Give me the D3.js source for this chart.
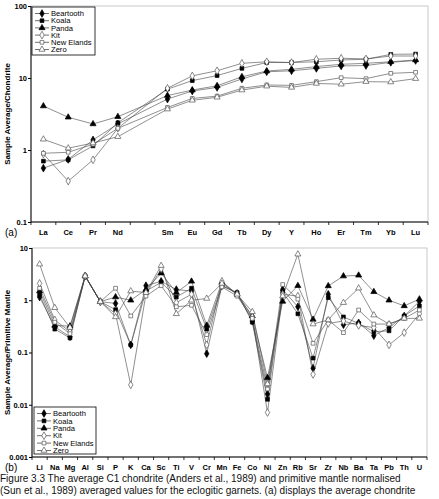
<!DOCTYPE html>
<html>
<head>
<meta charset="utf-8">
<script src="https://cdn.jsdelivr.net/npm/d3@7"></script>
<style>
  body { margin: 0; background: #fff; }
  svg { display: block; font-family: Arial, "Liberation Sans", sans-serif; }
</style>
</head>
<body>
<svg id="chart" width="439" height="499"></svg>
<script>
// series names and markers
const seriesNames = ["Beartooth", "Koala", "Panda", "Kit", "New Elands", "Zero"];

// (a) chondrite normalised REE, Pm is an empty slot
const reeLabels = ["La", "Ce", "Pr", "Nd", "Pm", "Sm", "Eu", "Gd", "Tb", "Dy", "Y", "Ho", "Er", "Tm", "Yb", "Lu"];
const reeBeartooth = [0.56, 0.74, 1.38, 2.3, null, 5.1, 6.6, 7.4, 9.7, 12.2, 12.6, 13.6, 14.7, 14.9, 16.5, 17.5];
const reeKoala = [0.70, 0.73, 1.14, 2.39, null, 7.0, 9.2, 10.8, 13.6, 16.4, 16.4, 16.8, 17.8, 18.2, 21.3, 21.5];
const reePanda = [4.08, 2.85, 2.3, 2.9, null, 5.7, 6.8, 7.8, 10.4, 12.5, 13.2, 14.4, 15.5, 16.0, 16.8, 17.8];
const reeKit = [0.88, 0.37, 0.73, 2.0, null, 7.2, 10.7, 12.6, 16.0, 16.8, 16.4, 18.2, 18.8, 18.4, 20.2, 20.2];
const reeNewElands = [0.90, 0.93, 1.2, 2.0, null, 3.9, 5.2, 5.6, 7.2, 8.0, 7.9, 8.9, 10.1, 9.8, 11.6, 12.0];
const reeZero = [1.41, 1.06, 1.25, 1.53, null, 3.7, 4.9, 5.4, 6.8, 7.7, 7.4, 8.4, 8.2, 8.9, 8.8, 9.8];
const reeTicks = [0.1, 1, 10, 100];

// (b) primitive mantle normalised
const pmLabels = ["Li", "Na", "Mg", "Al", "Si", "P", "K", "Ca", "Sc", "Ti", "V", "Cr", "Mn", "Fe", "Co", "Ni", "Zn", "Rb", "Sr", "Zr", "Nb", "Ba", "Ta", "Pb", "Th", "U"];
const pmBeartooth = [1.15, 0.31, 0.20, 2.9, 0.94, 0.87, 0.14, 1.9, 2.3, 1.6, 1.5, 0.095, 1.9, 1.35, 0.40, 0.016, 1.6, 0.75, 0.05, 1.3, 0.34, 0.37, 0.21, 0.30, 0.50, 0.95];
const pmKoala = [1.3, 0.28, 0.19, 2.9, 0.94, 0.66, 0.14, 1.5, 2.2, 1.15, 1.7, 0.28, 1.9, 1.4, 0.38, 0.0127, 1.45, 0.55, 0.078, 1.12, 0.48, 0.36, 0.25, 0.26, 0.50, 0.78];
const pmPanda = [1.5, 0.33, 0.32, 2.9, 0.94, 1.15, 1.0, 1.6, 3.3, 1.4, 2.3, 0.33, 2.2, 1.3, 0.50, 0.033, 0.95, 1.9, 0.43, 1.88, 2.9, 3.0, 1.45, 1.0, 0.78, 1.05];
const pmKit = [2.1, 0.42, 0.25, 2.9, 0.94, 0.55, 0.024, 1.3, 4.0, 0.9, 1.3, 0.14, 2.3, 1.3, 0.48, 0.0071, 1.3, 1.2, 0.038, 0.36, 0.40, 0.33, 0.30, 0.14, 0.24, 0.55];
const pmNewElands = [1.7, 0.38, 0.23, 2.9, 0.94, 1.7, 0.50, 1.2, 1.9, 0.75, 0.8, 0.22, 1.8, 1.2, 0.45, 0.020, 2.0, 1.05, 0.15, 0.42, 0.24, 0.65, 0.35, 0.35, 0.45, 0.65];
const pmZero = [4.9, 0.72, 0.30, 2.9, 0.94, 0.48, 1.5, 1.4, 4.6, 0.55, 1.0, 1.08, 2.1, 1.3, 0.60, 0.025, 1.2, 7.6, 0.35, 0.42, 0.9, 1.7, 0.52, 0.35, 0.45, 0.45];
const pmTicks = [0.001, 0.01, 0.1, 1, 10];

const caption = [
    "Figure 3.3 The average C1 chondrite (Anders et al., 1989) and primitive mantle normalised",
    "(Sun et al., 1989) averaged values for the eclogitic garnets. (a) displays the average chondrite"
];

const markers = [
    { type: d3.symbolDiamond, size: 17, fill: "#000" },
    { type: d3.symbolSquare, size: 14, fill: "#000" },
    { type: d3.symbolTriangle, size: 16, fill: "#000" },
    { type: d3.symbolDiamond, size: 17, fill: "#fff" },
    { type: d3.symbolSquare, size: 14, fill: "#fff" },
    { type: d3.symbolTriangle, size: 16, fill: "#fff" }
];

const svg = d3.select("#chart");

function drawPanel(opts) {
    const { left, right, top, bottom, labels, series, domain, ticks, yTitle, tag, legendBox, hideLabel } = opts;
    const g = svg.append("g");

    const x = d3.scaleBand().domain(labels).range([left, right]);
    const y = d3.scaleLog().domain(domain).range([bottom, top]);

    // frame
    g.append("rect")
        .attr("x", left).attr("y", top)
        .attr("width", right - left).attr("height", bottom - top)
        .attr("fill", "none").attr("stroke", "#bbb").attr("stroke-width", 0.8);
    g.append("line").attr("x1", left).attr("x2", left).attr("y1", top).attr("y2", bottom)
        .attr("stroke", "#000").attr("stroke-width", 1);
    g.append("line").attr("x1", left).attr("x2", right).attr("y1", bottom).attr("y2", bottom)
        .attr("stroke", "#000").attr("stroke-width", 1);

    // y axis
    const yAxis = d3.axisLeft(y).tickValues(ticks).tickSize(3).tickFormat(d => String(d));
    const ya = g.append("g").attr("transform", `translate(${left},0)`).call(yAxis);
    ya.select(".domain").remove();
    ya.selectAll("text").attr("font-size", 7.5).attr("font-weight", "bold").attr("x", -4)
        .attr("font-family", "Arial, 'Liberation Sans', sans-serif");

    // x axis: labels at band centres, ticks on band edges
    const xAxis = d3.axisBottom(x).tickSize(0).tickFormat(d => d === hideLabel ? "" : d);
    const xa = g.append("g").attr("transform", `translate(0,${bottom})`).call(xAxis);
    xa.select(".domain").remove();
    xa.selectAll("text").attr("font-size", 7.5).attr("font-weight", "bold").attr("dy", "1.15em")
        .attr("y", opts.labelOffset).attr("font-family", "Arial, 'Liberation Sans', sans-serif");
    const edges = labels.map(d => x(d)).concat([right]);
    g.selectAll(".edge").data(edges).enter().append("line")
        .attr("x1", d => d).attr("x2", d => d)
        .attr("y1", bottom).attr("y2", bottom + 3)
        .attr("stroke", "#000").attr("stroke-width", 0.8);

    g.append("text").attr("x", 5).attr("y", bottom + opts.labelOffset + 10)
        .attr("font-size", 10).text(tag);

    g.append("text")
        .attr("transform", `translate(10,${(top + bottom) / 2}) rotate(-90)`)
        .attr("text-anchor", "middle").attr("font-size", 8).attr("font-weight", "bold")
        .text(yTitle);

    const line = d3.line().x(d => x(d.k) + x.bandwidth() / 2).y(d => y(d.v));

    series.forEach((vals, i) => {
        const pts = labels.map((k, j) => ({ k, v: vals[j] })).filter(d => d.v != null);
        g.append("path").datum(pts).attr("d", line)
            .attr("fill", "none").attr("stroke", "#444").attr("stroke-width", 0.6);
    });
    series.forEach((vals, i) => {
        const m = markers[i];
        const pts = labels.map((k, j) => ({ k, v: vals[j] })).filter(d => d.v != null);
        g.selectAll(null).data(pts).enter().append("path")
            .attr("d", d3.symbol().type(m.type).size(m.size))
            .attr("transform", d => `translate(${x(d.k) + x.bandwidth() / 2},${y(d.v)})`)
            .attr("fill", m.fill).attr("stroke", m.fill === "#fff" ? "#555" : "#000")
            .attr("stroke-width", 0.7);
    });

    // legend
    const lb = legendBox;
    g.append("rect").attr("x", lb.x).attr("y", lb.y).attr("width", lb.w).attr("height", lb.h)
        .attr("fill", "#fff").attr("stroke", "#000").attr("stroke-width", 0.8);
    seriesNames.forEach((name, i) => {
        const cy = lb.y + 6.5 + i * lb.step;
        const m = markers[i];
        g.append("line").attr("x1", lb.x + 3).attr("x2", lb.x + 17).attr("y1", cy).attr("y2", cy)
            .attr("stroke", "#333").attr("stroke-width", 0.7);
        g.append("path").attr("d", d3.symbol().type(m.type).size(m.size))
            .attr("transform", `translate(${lb.x + 10},${cy})`)
            .attr("fill", m.fill).attr("stroke", m.fill === "#fff" ? "#555" : "#000").attr("stroke-width", 0.7);
        g.append("text").attr("x", lb.x + 19).attr("y", cy).attr("dy", "0.35em")
            .attr("font-size", 7.6).text(name);
    });
}

drawPanel({
    left: 31, right: 428, top: 6, bottom: 222,
    labels: reeLabels,
    series: [reeBeartooth, reeKoala, reePanda, reeKit, reeNewElands, reeZero],
    domain: [0.1, 100], ticks: reeTicks,
    yTitle: "Sample Average/Chondrite", tag: "(a)", hideLabel: "Pm", labelOffset: 4,
    legendBox: { x: 32, y: 7, w: 63, h: 48, step: 7.2 }
});

drawPanel({
    left: 32, right: 427, top: 248, bottom: 457,
    labels: pmLabels,
    series: [pmBeartooth, pmKoala, pmPanda, pmKit, pmNewElands, pmZero],
    domain: [0.001, 10], ticks: pmTicks,
    yTitle: "Sample Average/Primitive Mantle", tag: "(b)", hideLabel: null, labelOffset: 4,
    legendBox: { x: 34, y: 407, w: 62, h: 47, step: 7.4 }
});

svg.selectAll(".caption").data(caption).enter().append("text")
    .attr("x", 0).attr("y", (d, i) => 482 + i * 11.5)
    .attr("font-size", 10).attr("fill", "#111").text(d => d);
</script>
</body>
</html>
